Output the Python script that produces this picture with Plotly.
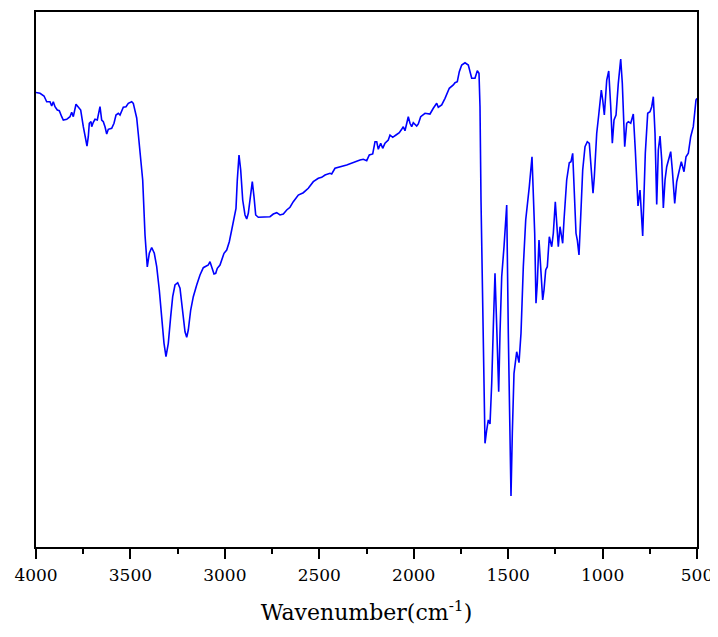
import plotly.graph_objects as go

wavenumber = [4000.0, 3978.8, 3957.6, 3943.3, 3925.9, 3916.9, 3908.4, 3899.4, 3887.2, 3876.6,
              3863.9, 3855.4, 3837.4, 3820.0, 3811.0, 3802.5, 3788.2, 3776.0, 3763.3, 3749.5,
              3736.8, 3730.0, 3723.1, 3717.8, 3708.8, 3705.1, 3696.6, 3687.6, 3675.4, 3661.1,
              3652.1, 3643.6, 3634.6, 3625.6, 3617.2, 3599.2, 3587.0, 3576.4, 3564.2, 3555.2,
              3537.7, 3523.5, 3511.3, 3493.3, 3484.8, 3475.8, 3466.8, 3458.3, 3449.3, 3435.0,
              3422.8, 3410.7, 3400.1, 3387.4, 3373.6, 3360.9, 3347.1, 3334.4, 3322.2, 3311.7,
              3299.5, 3286.8, 3276.2, 3264.0, 3249.7, 3237.5, 3223.2, 3211.0, 3202.0, 3193.6,
              3180.9, 3167.1, 3149.1, 3131.6, 3114.1, 3099.9, 3087.7, 3078.7, 3069.7, 3057.5,
              3048.5, 3040.0, 3025.7, 3016.7, 3004.5, 2990.2, 2976.5, 2963.8, 2950.0, 2941.0,
              2934.1, 2925.1, 2916.1, 2905.5, 2893.3, 2884.3, 2875.8, 2863.1, 2854.7, 2845.7,
              2836.7, 2822.9, 2796.4, 2760.9, 2743.5, 2725.5, 2708.0, 2690.5, 2672.5, 2655.1,
              2637.6, 2611.1, 2584.6, 2558.2, 2531.7, 2505.2, 2487.2, 2469.7, 2443.3, 2434.3,
              2416.8, 2354.8, 2284.4, 2266.9, 2248.9, 2235.1, 2217.1, 2204.9, 2195.9, 2187.5,
              2174.8, 2164.2, 2152.0, 2134.6, 2125.6, 2111.3, 2093.8, 2076.3, 2063.7, 2055.2,
              2046.2, 2037.2, 2028.7, 2019.7, 2010.7, 2002.2, 1984.2, 1975.7, 1963.0, 1940.2,
              1913.8, 1896.3, 1878.3, 1869.8, 1851.8, 1834.3, 1811.6, 1790.4, 1781.4, 1769.2,
              1758.6, 1745.9, 1728.4, 1710.9, 1701.9, 1692.9, 1675.5, 1663.3, 1654.3, 1649.0,
              1643.7, 1638.4, 1631.6, 1622.5, 1613.5, 1605.0, 1596.0, 1587.0, 1578.5, 1569.6,
              1560.5, 1550.0, 1543.1, 1534.1, 1521.9, 1507.6, 1499.1, 1490.2, 1484.9, 1477.9,
              1469.0, 1454.7, 1442.5, 1431.9, 1419.7, 1407.0, 1393.3, 1387.9, 1373.7, 1366.8,
              1359.4, 1352.5, 1345.6, 1336.6, 1327.6, 1317.0, 1310.1, 1301.1, 1292.6, 1282.0,
              1269.3, 1260.8, 1250.3, 1242.8, 1234.4, 1225.4, 1211.2, 1204.2, 1190.0, 1176.2,
              1167.2, 1158.2, 1149.7, 1140.7, 1133.8, 1124.8, 1115.8, 1105.2, 1093.0, 1080.8,
              1070.2, 1062.8, 1050.6, 1043.7, 1031.0, 1020.4, 1006.6, 999.2, 990.7, 978.0,
              967.4, 956.8, 948.4, 939.4, 928.8, 916.7, 904.0, 895.5, 882.8, 872.2,
              863.7, 851.0, 837.3, 826.7, 812.4, 801.8, 787.5, 773.7, 761.0, 748.8,
              739.8, 731.3, 722.3, 713.3, 704.8, 695.8, 686.8, 678.3, 669.3, 660.4,
              639.2, 630.7, 618.0, 607.5, 593.6, 583.1, 568.8, 558.2, 546.0, 533.3,
              519.6, 505.3, 500.0]

transmittance = [84.95, 84.80, 84.30, 83.23, 83.23, 82.43, 83.23, 82.30, 81.68, 81.55,
                 80.43, 79.81, 79.94, 80.43, 81.25, 80.43, 82.75, 82.30, 81.68, 78.56,
                 75.76, 74.95, 76.69, 79.20, 79.50, 78.56, 79.38, 79.94, 79.81, 82.30,
                 79.81, 79.50, 78.56, 77.20, 78.07, 78.26, 79.20, 80.75, 81.07, 80.75,
                 82.19, 82.30, 82.93, 83.23, 82.93, 81.68, 80.19, 77.20, 74.21, 68.60,
                 58.32, 52.34, 54.90, 55.98, 54.90, 52.39, 48.04, 42.43, 38.07, 35.57,
                 38.07, 43.05, 46.79, 48.97, 49.40, 48.36, 44.30, 40.24, 39.20, 40.56,
                 44.30, 46.79, 48.97, 50.84, 52.21, 52.52, 52.71, 53.33, 52.39, 51.03,
                 51.16, 52.09, 52.71, 53.64, 54.90, 55.51, 57.07, 59.25, 61.44, 63.31,
                 68.60, 73.27, 70.47, 64.86, 62.06, 61.31, 62.37, 66.73, 68.28, 65.48,
                 62.06, 61.63, 61.63, 61.74, 62.24, 62.49, 62.06, 62.24, 62.99, 63.50,
                 64.54, 65.79, 66.22, 67.05, 68.28, 68.92, 69.10, 69.53, 69.85, 69.72,
                 70.79, 71.40, 72.34, 72.47, 72.21, 73.27, 73.46, 75.76, 75.76, 74.34,
                 75.46, 74.52, 75.46, 76.07, 77.01, 76.58, 77.01, 77.44, 78.07, 78.56,
                 77.81, 79.20, 80.43, 79.20, 78.56, 79.31, 78.69, 79.07, 80.43, 81.07,
                 80.93, 82.00, 82.93, 82.19, 82.62, 83.87, 85.74, 86.36, 86.79, 86.97,
                 88.84, 90.09, 90.52, 90.09, 88.84, 87.61, 87.61, 89.03, 88.54, 82.30,
                 64.86, 52.39, 33.70, 19.38, 21.87, 23.74, 22.99, 30.60, 41.18, 51.16,
                 41.18, 29.03, 39.94, 50.52, 56.13, 63.93, 39.94, 18.13, 9.53, 21.25,
                 32.47, 36.50, 34.45, 39.94, 52.39, 61.12, 64.86, 67.35, 72.95, 67.35,
                 58.64, 45.55, 49.29, 57.38, 52.39, 46.17, 48.04, 51.78, 52.39, 58.00,
                 56.13, 58.64, 64.54, 59.87, 56.13, 59.87, 56.77, 61.12, 68.60, 71.83,
                 72.02, 73.59, 67.35, 58.64, 57.38, 54.58, 61.74, 70.47, 74.82, 75.76,
                 75.46, 71.72, 66.11, 69.21, 77.33, 80.75, 85.42, 83.55, 80.75, 87.29,
                 88.97, 82.30, 75.46, 79.81, 80.75, 86.67, 91.21, 86.67, 74.82, 79.20,
                 79.50, 79.20, 80.93, 74.21, 63.74, 66.73, 58.13, 73.59, 81.07, 81.36,
                 82.30, 84.17, 77.33, 64.02, 74.21, 76.82, 72.34, 63.36, 68.60, 71.08,
                 73.89, 70.47, 64.24, 68.28, 70.47, 72.02, 70.15, 72.95, 73.59, 76.69,
                 78.56, 83.55, 83.87]

x_ticks = [4000, 3500, 3000, 2500, 2000, 1500, 1000, 500]
x_tick_labels = ["4000", "3500", "3000", "2500", "2000", "1500", "1000", "500"]

fig = go.Figure()
fig.add_trace(go.Scatter(
    x=wavenumber, y=transmittance, mode="lines",
    line=dict(color="#0000FF", width=1.6),
    showlegend=False, hoverinfo="skip",
))

font_family = "DejaVu Serif"

fig.update_layout(
    width=710, height=621,
    margin=dict(l=28, r=21, t=4, b=82, autoexpand=False),
    paper_bgcolor="white", plot_bgcolor="white",
    font=dict(family=font_family, color="black"),
    xaxis=dict(
        range=[4000, 500], automargin=False,
        tickvals=x_ticks, ticktext=x_tick_labels,
        ticks="outside", ticklen=10, tickwidth=2, tickcolor="black",
        minor=dict(dtick=250, ticks="outside", ticklen=5, tickwidth=2, tickcolor="black", showgrid=False),
        showline=True, linecolor="black", linewidth=2, mirror=True,
        showgrid=False, zeroline=False,
        ticklabelstandoff=2, ticklabeloverflow="allow",
        tickfont=dict(family=font_family, size=17, color="black"),
        title=dict(text="Wavenumber(cm<sup>-1</sup>)", font=dict(family=font_family, size=22, color="black"), standoff=20),
    ),
    yaxis=dict(
        range=[0, 100], automargin=False,
        showticklabels=False, ticks="",
        showline=True, linecolor="black", linewidth=2, mirror=True,
        showgrid=False, zeroline=False,
    ),
)

fig.write_html("out.html")
